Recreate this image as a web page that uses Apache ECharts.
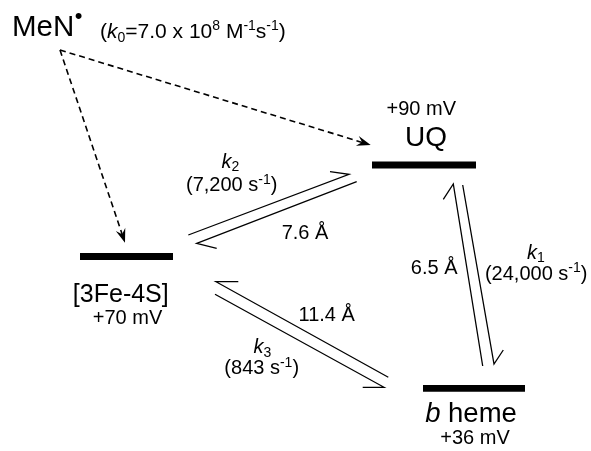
<!DOCTYPE html>
<html>
<head>
<meta charset="utf-8">
<script src="https://cdn.jsdelivr.net/npm/echarts@6/dist/echarts.min.js"></script>
<style>
  html, body { margin: 0; padding: 0; background: #fff; }
  #main { width: 591px; height: 451px; }
</style>
</head>
<body>
<div id="main"></div>
<script>
// Redox centres of the electron-transfer scheme and their midpoint potentials (mV)
const centres = ['[3Fe-4S]', 'UQ', 'b heme'];
const potentials = [70, 90, 36];

// Inter-centre electron-transfer steps
const stepNames = ['k1', 'k2', 'k3'];
const stepRates = [24000, 7200, 843];     // s^-1
const stepDistances = [6.5, 7.6, 11.4];   // Å

// Radical donor and its bimolecular rate constant
const donorName = 'MeN';
const donorRateMantissa = 7.0;
const donorRateExponent = 8;

// ---------- drawing layout (plot units = pixels of the 591 x 451 canvas) ----------
const W = 591, H = 451;
const FONT = '"Liberation Sans", Arial, Helvetica, sans-serif';
const LABEL_SIZE = 20;

const levelLayout = [
  { x1: 80,  x2: 173, y: 256.5, name: [120.8, 295.5, 25], pot: [127.5, 318.5, 20] },
  { x1: 372, x2: 476, y: 165,   name: [426, 138.5, 28],   pot: [421.3, 109, 20] },
  { x1: 423, x2: 525, y: 388.3, name: [471, 414.5, 27.5], pot: [475, 438.5, 20] }
];

// each step: two half-arrows (harpoons) as [barb, tip, tail]
const stepLayout = [
  { // k1: UQ <-> b heme
    fwd: [[503.3, 350], [494, 364], [462.7, 185]],
    back: [[443.3, 199.3], [453.3, 184], [482.7, 366]],
    k: [536, 253], rate: [536.2, 274], dist: [434.2, 268.5]
  },
  { // k2: [3Fe-4S] <-> UQ
    fwd: [[330, 171.7], [349, 174.3], [188.3, 235]],
    back: [[216.7, 248.3], [196.7, 243.3], [356.7, 181.7]],
    k: [230.4, 162], rate: [231.7, 185.5], dist: [305, 233.5]
  },
  { // k3: b heme <-> [3Fe-4S]
    fwd: [[362.7, 387.3], [384, 387.3], [215, 294.3]],
    back: [[238.3, 281.7], [216, 281.7], [388.3, 377.3]],
    k: [262.4, 347.5], rate: [261.7, 368.5], dist: [326.7, 315.5]
  }
];

// dashed arrows from the donor to [3Fe-4S] and UQ
const donorOrigin = [60, 50];
const donorTargets = [[125, 242.7], [370.7, 145]];
const donorLabel = { name: [12, 28, 29.5], dot: [78.5, 16.5], k0: [100, 32.5, 21] };

function rich(size) {
  return {
    i:   { fontFamily: FONT, fontSize: size, fontStyle: 'italic', fill: '#000' },
    sub: { fontFamily: FONT, fontSize: Math.round(size * 0.68), verticalAlign: 'bottom',
           lineHeight: Math.round(size * 0.75), fill: '#000' },
    sup: { fontFamily: FONT, fontSize: Math.round(size * 0.68), verticalAlign: 'top',
           lineHeight: Math.round(size * 0.7), fill: '#000' }
  };
}

function textEl(api, pos, size, text, align) {
  const p = api.coord([pos[0], pos[1]]);
  return {
    type: 'text',
    x: p[0], y: p[1],
    style: {
      text: text, fontFamily: FONT, fontSize: size, fill: '#000',
      lineHeight: size + 5,
      align: align || 'center', verticalAlign: 'middle',
      rich: rich(size)
    }
  };
}

function fmtRate(v) { return v.toLocaleString('en-US'); }
function fmtDist(v) { return v.toFixed(1) + ' Å'; }

function harpoon(api, pts) {
  return {
    type: 'polyline',
    shape: { points: pts.map(q => api.coord(q)) },
    style: { stroke: '#000', lineWidth: 1.3, fill: null, lineJoin: 'miter' }
  };
}

function arrowHead(tip, from, len, half, notch) {
  const dx = tip[0] - from[0], dy = tip[1] - from[1];
  const L = Math.hypot(dx, dy), ux = dx / L, uy = dy / L;
  const nx = -uy, ny = ux;
  const bx = tip[0] - ux * len, by = tip[1] - uy * len;
  return [
    tip,
    [bx + nx * half, by + ny * half],
    [tip[0] - ux * notch, tip[1] - uy * notch],
    [bx - nx * half, by - ny * half]
  ];
}

const chart = echarts.init(document.getElementById('main'));
chart.setOption({
  animation: false,
  backgroundColor: '#fff',
  grid: { left: 0, right: 0, top: 0, bottom: 0 },
  xAxis: { type: 'value', min: 0, max: W, show: false },
  yAxis: { type: 'value', min: 0, max: H, inverse: true, show: false },
  series: [
    { // energy levels
      type: 'custom',
      data: centres.map((c, i) => [levelLayout[i].x1, levelLayout[i].x2, levelLayout[i].y, potentials[i]]),
      renderItem: function (params, api) {
        const i = params.dataIndex;
        const a = api.coord([api.value(0), api.value(2)]);
        const b = api.coord([api.value(1), api.value(2)]);
        const lay = levelLayout[i];
        const nameText = centres[i] === 'b heme' ? '{i|b} heme' : centres[i];
        const pv = api.value(3);
        return {
          type: 'group',
          children: [
            { type: 'rect', shape: { x: a[0], y: a[1] - 3.4, width: b[0] - a[0], height: 6.8 },
              style: { fill: '#000' } },
            textEl(api, lay.name, lay.name[2], nameText),
            textEl(api, lay.pot, lay.pot[2], (pv > 0 ? '+' : '') + pv + ' mV')
          ]
        };
      }
    },
    { // electron-transfer equilibria
      type: 'custom',
      data: stepNames.map((n, i) => [stepRates[i], stepDistances[i]]),
      renderItem: function (params, api) {
        const i = params.dataIndex;
        const lay = stepLayout[i];
        const num = stepNames[i].slice(1);
        return {
          type: 'group',
          children: [
            harpoon(api, lay.fwd),
            harpoon(api, lay.back),
            textEl(api, lay.k, LABEL_SIZE, '{i|k}{sub|' + num + '}'),
            textEl(api, lay.rate, LABEL_SIZE, '(' + fmtRate(api.value(0)) + ' s{sup|-1})'),
            textEl(api, lay.dist, LABEL_SIZE, fmtDist(api.value(1)))
          ]
        };
      }
    },
    { // radical donor and dashed arrows
      type: 'custom',
      data: donorTargets.map(t => [t[0], t[1]]),
      renderItem: function (params, api) {
        const tip = [api.value(0), api.value(1)];
        const head = arrowHead(tip, donorOrigin, 14, 5, 9);
        const dashEnd = [(head[2][0] + tip[0]) / 2, (head[2][1] + tip[1]) / 2];
        const children = [
          { type: 'line',
            shape: (function () { const s = api.coord(donorOrigin), e = api.coord(dashEnd);
              return { x1: s[0], y1: s[1], x2: e[0], y2: e[1] }; })(),
            style: { stroke: '#000', lineWidth: 1.6, lineDash: [6, 4] } },
          { type: 'polygon', shape: { points: head.map(q => api.coord(q)) },
            style: { fill: '#000' } }
        ];
        if (params.dataIndex === 0) {
          children.push(textEl(api, donorLabel.name, donorLabel.name[2], donorName, 'left'));
          children.push(textEl(api, donorLabel.dot, 22, '•'));
          children.push(textEl(api, donorLabel.k0, donorLabel.k0[2],
            '({i|k}{sub|0}=' + donorRateMantissa.toFixed(1) + ' x 10{sup|' + donorRateExponent +
            '} M{sup|-1}s{sup|-1})', 'left'));
        }
        return { type: 'group', children: children };
      }
    }
  ]
});
</script>
</body>
</html>
